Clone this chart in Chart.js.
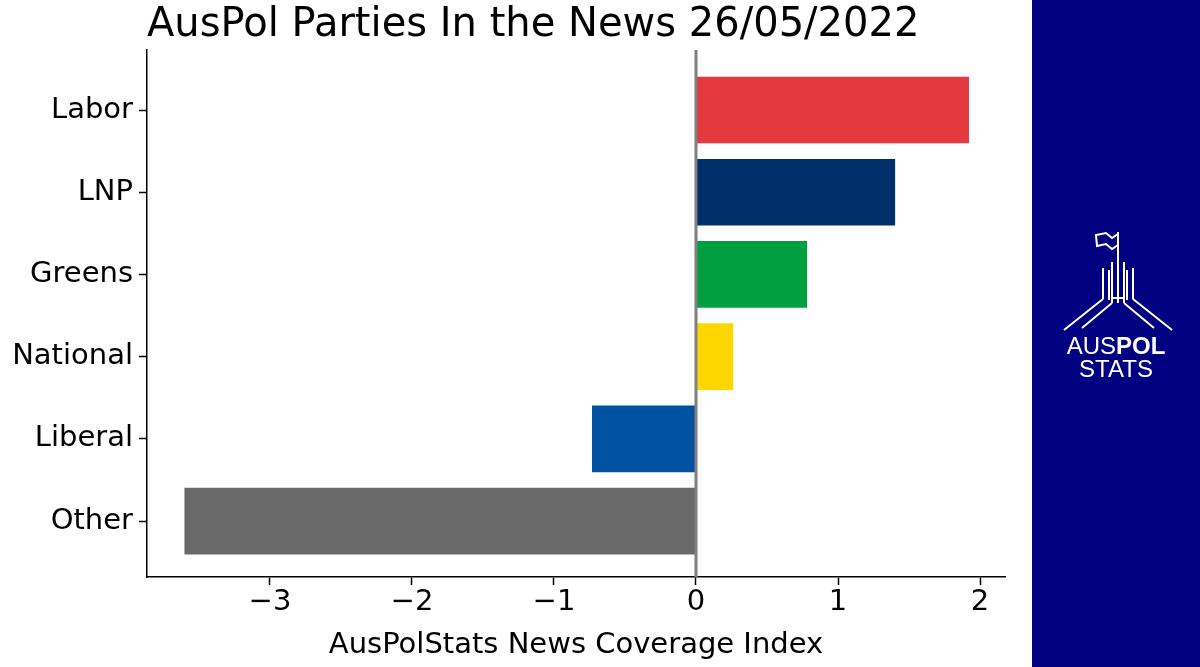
<!DOCTYPE html>
<html><head><meta charset="utf-8">
<script src="https://cdn.jsdelivr.net/npm/chart.js@4"></script>
<style>html,body{margin:0;padding:0;background:#fff}#wrap{width:1200px;height:667px;position:relative}</style>
</head><body><div id="wrap"><canvas id="c"></canvas></div>
<script>
const categories = ["Labor","LNP","Greens","National","Liberal","Other"];
const values = [1.92, 1.40, 0.78, 0.26, -0.73, -3.60];
const barColors = ["#E53940","#002F6C","#00A040","#FFD700","#0052A0","#696969"];
const xTicks = [-3,-2,-1,0,1,2];
const titleText = "AusPol Parties In the News 26/05/2022";
const xTitle = "AusPolStats News Coverage Index";
const F = "'DejaVu Sans', sans-serif";

const deco = {
  id:'deco',
  afterDatasetsDraw(ch){
    const c=ch.ctx, xs=ch.scales.x, a=ch.chartArea;
    const x0=xs.getPixelForValue(0);
    c.save();c.strokeStyle='#808080';c.lineWidth=3;
    c.beginPath();c.moveTo(x0,a.top);c.lineTo(x0,a.bottom);c.stroke();c.restore();
  },
  afterDraw(ch){
    const c=ch.ctx;
    c.save();
    c.fillStyle='#000';c.font="40px "+F;c.textBaseline='middle';c.textAlign='left';
    c.fillText(titleText,147,26);
    c.fillStyle='#000080';c.fillRect(1032,0,168,667);
    c.strokeStyle='#fff';c.lineWidth=2;
    const L=(pts)=>{c.beginPath();c.moveTo(pts[0],pts[1]);for(let i=2;i<pts.length;i+=2)c.lineTo(pts[i],pts[i+1]);c.stroke();};
    L([1118,232,1118,303]);
    L([1118,234,1112,238,1106,233,1096,235,1097,246,1106,244,1112,249,1118,245]);
    L([1112,262,1112,303]); L([1124,262,1124,303]);
    L([1109,270,1109,300]); L([1127,270,1127,300]);
    L([1103,268,1103,299]); L([1133,268,1133,299]);
    L([1112,298,1124,298]);
    L([1103,299,1064,330]); L([1133,299,1172,330]);
    L([1112,303,1082,328]); L([1124,303,1154,328]);
    c.fillStyle='#fff';c.textBaseline='middle';
    const reg="24px 'Liberation Sans', Arial, sans-serif", bold="bold 24px 'Liberation Sans', Arial, sans-serif";
    c.font=reg;const w1=c.measureText("AUS").width;
    c.font=bold;const w2=c.measureText("POL").width;
    const sx=1116-(w1+w2)/2;
    c.textAlign='left';
    c.font=reg;c.fillText("AUS",sx,347);
    c.font=bold;c.fillText("POL",sx+w1,347);
    c.textAlign='center';c.font=reg;c.fillText("STATS",1116,370);
    c.restore();
  }
};

new Chart(document.getElementById('c'),{
  type:'bar',
  data:{datasets:[{data:values.map((v,i)=>({x:v,y:i})),backgroundColor:barColors,barThickness:66,borderWidth:0}]},
  options:{
    indexAxis:'y',responsive:true,maintainAspectRatio:false,animation:false,
    layout:{padding:{left:0,right:195,top:50,bottom:0}},
    plugins:{legend:{display:false},title:{display:false},tooltip:{enabled:false}},
    scales:{
      x:{type:'linear',min:-3.866,max:2.176,
        afterBuildTicks(s){s.ticks=xTicks.map(v=>({value:v}));},
        afterFit(s){s.height=90;},
        ticks:{color:'#000',font:{family:F,size:29},padding:0,maxRotation:0,autoSkip:false,
          callback:v=>String(v).replace('-','\u2212')},
        grid:{display:true,drawOnChartArea:false,drawTicks:true,tickLength:8,color:'#000',tickWidth:1.5},
        border:{display:true,color:'#000',width:1.5},
        title:{display:true,text:xTitle,color:'#000',font:{family:F,size:29},padding:{top:0}}
      },
      y:{type:'linear',reverse:true,min:-0.73,max:5.68,offset:false,
        afterBuildTicks(s){s.ticks=categories.map((_,i)=>({value:i}));},
        afterFit(s){s.width=147;},
        ticks:{color:'#000',font:{family:F,size:29},padding:6,autoSkip:false,callback:v=>categories[v]},
        grid:{display:true,offset:false,drawOnChartArea:false,drawTicks:true,tickLength:8,color:'#000',tickWidth:1.5},
        border:{display:true,color:'#000',width:1.5}
      }
    }
  },
  plugins:[deco]
});
</script></body></html>
